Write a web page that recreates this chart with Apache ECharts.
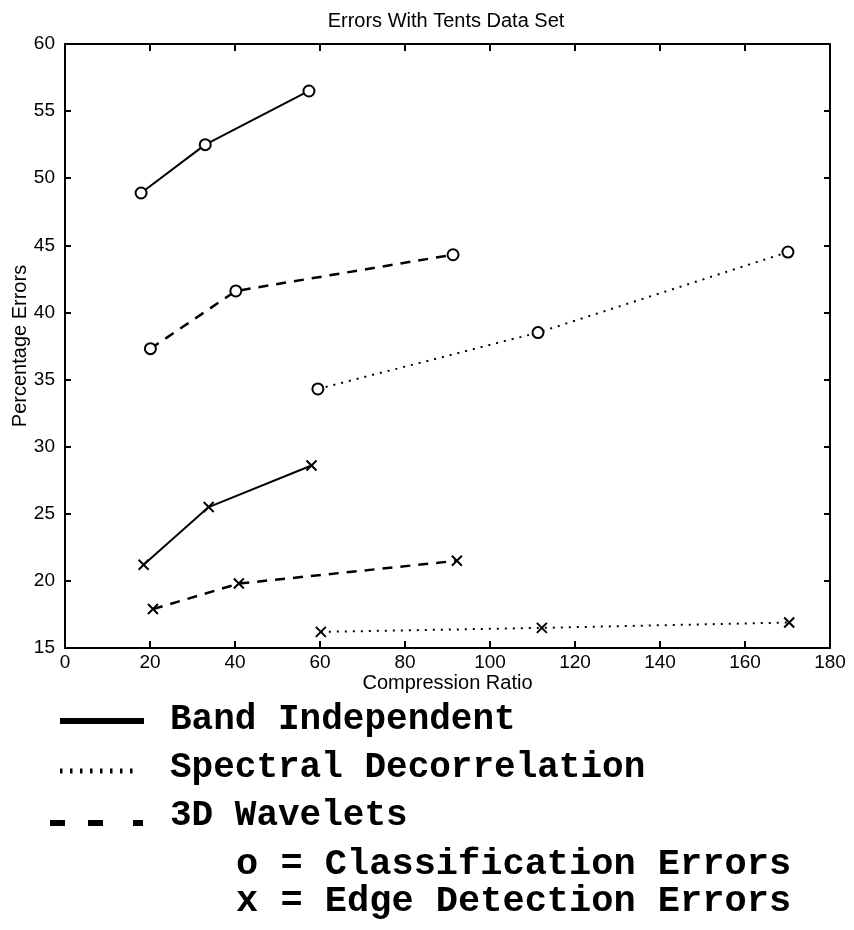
<!DOCTYPE html>
<html>
<head>
<meta charset="utf-8">
<script src="https://cdn.jsdelivr.net/npm/echarts@6/dist/echarts.min.js"></script>
<style>
html,body{margin:0;padding:0;background:#fff;}
#chart{width:854px;height:930px;}
</style>
</head>
<body>
<div id="chart"></div>
<script>
// ---- data ----
const titleText = 'Errors With Tents Data Set';
const xName = 'Compression Ratio';
const yName = 'Percentage Errors';
const xMin = 0, xMax = 180, xStep = 20;
const yMin = 15, yMax = 60, yStep = 5;

// Band Independent (solid)
const bandClassX = [17.9, 33.0, 57.4];
const bandClassY = [48.9, 52.5, 56.5];
const bandEdgeX  = [18.5, 33.8, 58.0];
const bandEdgeY  = [21.2, 25.5, 28.6];
// 3D Wavelets (dashed)
const waveClassX = [20.1, 40.2, 91.3];
const waveClassY = [37.3, 41.6, 44.3];
const waveEdgeX  = [20.7, 40.9, 92.2];
const waveEdgeY  = [17.9, 19.8, 21.5];
// Spectral Decorrelation (dotted)
const specClassX = [59.5, 111.3, 170.1];
const specClassY = [34.3, 38.5, 44.5];
const specEdgeX  = [60.2, 112.2, 170.4];
const specEdgeY  = [16.2, 16.5, 16.9];

const legendLabels = ['Band Independent', 'Spectral Decorrelation', '3D Wavelets'];
const markerNotes = ['o = Classification Errors', 'x = Edge Detection Errors'];

// ---- build ----
const zip = (xs, ys) => xs.map((x, i) => [x, ys[i]]);
const CROSS = 'path://M0,0L10,10M10,0L0,10';

function mk(name, xs, ys, lineType, width, isCross) {
  return {
    name: name,
    type: 'line',
    data: zip(xs, ys),
    symbol: isCross ? CROSS : 'circle',
    symbolSize: isCross ? 10 : 11,
    showAllSymbol: true,
    animation: false,
    lineStyle: { color: '#000', width: width, type: lineType },
    itemStyle: { color: isCross ? '#000' : '#fff', borderColor: '#000', borderWidth: 2 },
    emphasis: { disabled: true }
  };
}

const sansFont = 'Liberation Sans, Arial, sans-serif';
const labelFont = { color: '#000', fontSize: 19, fontFamily: sansFont };

const chart = echarts.init(document.getElementById('chart'), null, { renderer: 'canvas' });

const legendFont = '"Liberation Mono", "Courier New", monospace';

const option = {
  backgroundColor: '#fff',
  animation: false,
  title: {
    text: titleText,
    left: 441,
    top: 6,
    textAlign: 'center',
    textStyle: { color: '#000', fontSize: 20, fontWeight: 'normal', fontFamily: sansFont }
  },
  grid: { left: 65, right: 24, top: 44, bottom: 282, containLabel: false, outerBoundsMode: 'none' },
  xAxis: [
    {
      type: 'value', min: xMin, max: xMax, interval: xStep, position: 'bottom',
      name: xName, nameLocation: 'middle', nameGap: 25, nameMoveOverlap: false,
      nameTextStyle: { color: '#000', fontSize: 20, fontFamily: sansFont },
      axisLine: { show: true, onZero: false, lineStyle: { color: '#000', width: 2 } },
      axisTick: { show: true, inside: true, length: 7, lineStyle: { color: '#000', width: 2 } },
      axisLabel: Object.assign({ margin: 5 }, labelFont),
      splitLine: { show: false }
    },
    {
      type: 'value', min: xMin, max: xMax, interval: xStep, position: 'top',
      axisLine: { show: true, onZero: false, lineStyle: { color: '#000', width: 2 } },
      axisTick: { show: true, inside: true, length: 7, lineStyle: { color: '#000', width: 2 } },
      axisLabel: { show: false },
      splitLine: { show: false }
    }
  ],
  yAxis: [
    {
      type: 'value', min: yMin, max: yMax, interval: yStep, position: 'left',
      name: yName, nameLocation: 'middle', nameGap: 35, nameMoveOverlap: false,
      nameTextStyle: { color: '#000', fontSize: 20, fontFamily: sansFont },
      axisLine: { show: true, onZero: false, lineStyle: { color: '#000', width: 2 } },
      axisTick: { show: true, inside: true, length: 6, lineStyle: { color: '#000', width: 2 } },
      axisLabel: Object.assign({ margin: 10 }, labelFont),
      splitLine: { show: false }
    },
    {
      type: 'value', min: yMin, max: yMax, interval: yStep, position: 'right',
      axisLine: { show: true, onZero: false, lineStyle: { color: '#000', width: 2 } },
      axisTick: { show: true, inside: true, length: 6, lineStyle: { color: '#000', width: 2 } },
      axisLabel: { show: false },
      splitLine: { show: false }
    }
  ],
  series: [
    mk('Band Independent o', bandClassX, bandClassY, 'solid', 2, false),
    mk('Band Independent x', bandEdgeX, bandEdgeY, 'solid', 2, true),
    mk('3D Wavelets o', waveClassX, waveClassY, [10, 8], 2.5, false),
    mk('3D Wavelets x', waveEdgeX, waveEdgeY, [10, 8], 2.5, true),
    mk('Spectral Decorrelation o', specClassX, specClassY, [2, 6], 2, false),
    mk('Spectral Decorrelation x', specEdgeX, specEdgeY, [2, 6], 2, true)
  ],
  graphic: [
    // legend line samples
    { type: 'line', shape: { x1: 60, y1: 721, x2: 144, y2: 721 }, style: { stroke: '#000', lineWidth: 6 } },
    { type: 'line', shape: { x1: 60, y1: 771, x2: 137, y2: 771 }, style: { stroke: '#000', lineWidth: 5, lineDash: [2.5, 7.5] } },
    { type: 'line', shape: { x1: 50, y1: 823, x2: 65, y2: 823 }, style: { stroke: '#000', lineWidth: 6 } },
    { type: 'line', shape: { x1: 88, y1: 823, x2: 103, y2: 823 }, style: { stroke: '#000', lineWidth: 6 } },
    { type: 'line', shape: { x1: 133, y1: 823, x2: 143, y2: 823 }, style: { stroke: '#000', lineWidth: 6 } },
    // legend texts
    { type: 'text', left: 170, top: 702, style: { text: legendLabels[0], fill: '#000', font: 'bold 36px ' + legendFont } },
    { type: 'text', left: 170, top: 750, style: { text: legendLabels[1], fill: '#000', font: 'bold 36px ' + legendFont } },
    { type: 'text', left: 170, top: 798, style: { text: legendLabels[2], fill: '#000', font: 'bold 36px ' + legendFont } },
    { type: 'text', left: 236, top: 846, style: { text: markerNotes[0], fill: '#000', font: 'bold 37px ' + legendFont } },
    { type: 'text', left: 236, top: 883, style: { text: markerNotes[1], fill: '#000', font: 'bold 37px ' + legendFont } }
  ]
};
chart.setOption(option);
</script>
</body>
</html>
